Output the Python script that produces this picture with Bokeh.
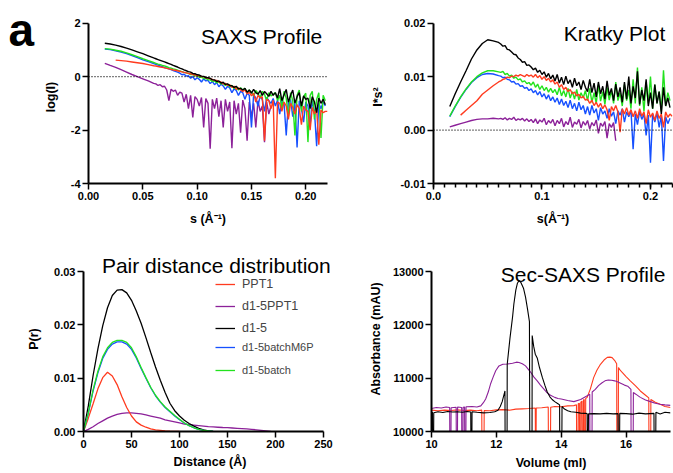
from bokeh.plotting import figure
from bokeh.layouts import column, row
from bokeh.models import (Range1d, FixedTicker, NumeralTickFormatter, Span, Label,
                          Legend, LegendItem)
from bokeh.embed import file_html
from bokeh.resources import INLINE

FONT = "Liberation Sans"
RED = "#FF3B1F"
GREEN = "#22E21E"
BLUE = "#1650FF"
PURPLE = "#8C2199"
BLACK = "#000000"

# ---------------- s grid (Å^-1) shared by SAXS and Kratky ----------------
S = [0.015, 0.02, 0.025, 0.03, 0.035, 0.04, 0.045, 0.05, 0.055, 0.06] + \
    [round(0.062 + 0.002 * i, 3) for i in range(80)]

# ---------------- SAXS profile: log(I) ----------------
SAXS_BLACK = [1.25, 1.22, 1.18, 1.13, 1.07, 1.00, 0.93, 0.86, 0.78, 0.70,
              0.67, 0.64, 0.61, 0.58, 0.55, 0.52, 0.49, 0.46, 0.42, 0.39, 0.36, 0.32, 0.29, 0.25,
              0.22, 0.19, 0.17, 0.12, 0.11, 0.07, 0.06, 0.02, 0.01, -0.04, -0.04,
              -0.06, -0.12, -0.12, -0.18, -0.16, -0.24, -0.21, -0.29, -0.27, -0.33, -0.34, -0.40, -0.36, -0.46, -0.44,
              -0.50, -0.44, -0.58, -0.50, -0.62, -0.48, -0.60, -0.66, -0.52, -0.70, -0.56, -0.64, -0.74, -0.55, -0.70,
              -0.60, -0.80, -0.45, -0.90, -0.68, -0.48, -0.95, -0.70, -0.50, -1.00, -0.75, -0.60, -1.10, -0.72, -0.85,
              -0.80, -1.20, -0.75, -0.95, -1.35, -0.80, -1.00, -0.85, -1.05]
SAXS_GREEN = [1.05, 1.03, 0.99, 0.95, 0.89, 0.82, 0.75, 0.67, 0.60, 0.53,
              0.50, 0.47, 0.45, 0.42, 0.40, 0.37, 0.34, 0.32, 0.29, 0.27, 0.24, 0.21, 0.19, 0.16,
              0.14, 0.12, 0.08, 0.08, 0.03, 0.03, -0.02, -0.02, -0.07, -0.06, -0.12,
              -0.12, -0.18, -0.16, -0.23, -0.20, -0.28, -0.25, -0.33, -0.28, -0.38, -0.33, -0.45, -0.38, -0.50, -0.42,
              -0.50, -0.44, -0.62, -0.50, -0.58, -0.72, -0.52, -0.62, -0.80, -0.55, -0.66, -0.90, -0.60, -0.72, -0.65,
              -0.60, -0.90, -0.70, -1.20, -0.55, -0.80, -1.50, -0.60, -0.90, -2.20, -0.70, -0.50, -1.30, -0.75, -0.62,
              -2.45, -0.70, -0.55, -1.60, -0.85, -0.60, -2.30, -0.70, -0.90]
SAXS_BLUE = [1.03, 1.01, 0.97, 0.92, 0.86, 0.79, 0.71, 0.63, 0.56, 0.49,
             0.46, 0.43, 0.40, 0.37, 0.34, 0.32, 0.29, 0.26, 0.23, 0.20, 0.17, 0.13, 0.07, 0.09,
             0.02, 0.04, -0.06, 0.00, -0.12, -0.04, -0.10, -0.20, -0.08, -0.16, -0.14,
             -0.26, -0.18, -0.30, -0.22, -0.38, -0.28, -0.35, -0.48, -0.36, -0.42, -0.60, -0.46, -0.52, -0.70, -0.55,
             -0.60, -0.85, -0.62, -0.70, -1.90, -0.68, -0.80, -1.10, -0.72, -0.86, -1.30, -0.78, -0.90, -1.00, -0.82,
             -1.10, -0.88, -1.40, -0.90, -1.00, -2.20, -0.95, -0.85, -1.50, -1.00, -2.65, -0.90, -1.20, -1.70, -0.95,
             -1.10, -1.80, -0.90, -1.30, -2.60, -1.00, -1.20, -0.95, -1.10]
SAXS_RED = [0.62, 0.60, 0.58, 0.55, 0.52, 0.49, 0.45, 0.41,
            0.40, 0.38, 0.36, 0.35, 0.33, 0.31, 0.29, 0.27, 0.25, 0.24, 0.22, 0.20, 0.18, 0.16,
            0.14, 0.12, 0.11, 0.08, 0.07, 0.04, 0.04, 0.00, 0.00, -0.04, -0.05,
            -0.08, -0.10, -0.14, -0.14, -0.20, -0.20, -0.27, -0.25, -0.33, -0.30, -0.40, -0.36, -0.48, -0.42, -0.50,
            -0.55, -0.50, -0.65, -0.58, -0.72, -0.62, -0.95, -0.70, -0.80, -0.75, -2.40, -0.85, -0.90, -1.20, -0.88,
            -3.80, -0.95, -1.00, -1.30, -0.95, -1.10, -1.60, -1.00, -1.15, -1.40, -1.05, -1.20, -1.80, -1.10, -1.25,
            -1.30, -2.00, -1.15, -1.40, -1.20, -2.55, -1.25, -1.35, -1.30, -1.30]
SAXS_PURPLE = [0.50, 0.42, 0.35, 0.26, 0.17, 0.08, 0.00, -0.08, -0.16, -0.25,
               -0.27, -0.33, -0.30, -0.38, -0.36, -0.50, -0.90, -0.47, -0.55, -0.50, -0.70, -0.58, -0.62, -0.95,
               -0.66, -1.20, -0.70, -1.53, -0.75, -0.85, -1.10, -0.78, -1.90, -0.82, -1.00,
               -2.70, -0.85, -1.20, -0.80, -1.50, -0.90, -1.90, -0.85, -1.30, -0.95, -2.68, -0.90, -1.40, -1.00, -2.10,
               -0.88, -1.20, -2.40, -0.95, -1.50, -1.00, -1.90, -0.90, -1.30, -1.10, -2.45, -0.95, -1.40, -1.10]

# ---------------- Kratky: I*s^2 ----------------
KR_BLACK = [0.0044, 0.0068, 0.0090, 0.0111, 0.0133, 0.0150, 0.0162, 0.0169, 0.0167, 0.0164,
            0.0161, 0.0157, 0.0158, 0.0151, 0.0150, 0.0146, 0.0142, 0.0141, 0.0135, 0.0132, 0.0127, 0.0128, 0.0121, 0.0122,
            0.0118, 0.0113, 0.0116, 0.0108, 0.0112, 0.0104, 0.0109, 0.0099, 0.0106, 0.0096, 0.0103,
            0.0092, 0.0104, 0.0088, 0.0099, 0.0085, 0.0101, 0.0087, 0.0094, 0.0080, 0.0097, 0.0083, 0.0090, 0.0076, 0.0093, 0.0080,
            0.0072, 0.0095, 0.0070, 0.0088, 0.0062, 0.0090, 0.0068, 0.0082, 0.0058, 0.0092, 0.0065, 0.0078, 0.0055, 0.0086, 0.0062,
            0.0080, 0.0052, 0.0090, 0.0058, 0.0100, 0.0050, 0.0082, 0.0060, 0.0110, 0.0048, 0.0075, 0.0055, 0.0095, 0.0045, 0.0070,
            0.0040, 0.0085, 0.0050, 0.0072, 0.0030, 0.0080, 0.0045, 0.0060, 0.0042]
KR_GREEN = [0.0026, 0.0045, 0.0062, 0.0077, 0.0090, 0.0100, 0.0107, 0.0111, 0.0111, 0.0109,
            0.0108, 0.0110, 0.0104, 0.0106, 0.0101, 0.0103, 0.0097, 0.0099, 0.0094, 0.0096, 0.0090, 0.0092, 0.0087, 0.0089,
            0.0084, 0.0090, 0.0080, 0.0086, 0.0076, 0.0083, 0.0074, 0.0080, 0.0071, 0.0078, 0.0070,
            0.0076, 0.0066, 0.0080, 0.0064, 0.0074, 0.0062, 0.0078, 0.0060, 0.0072, 0.0058, 0.0076, 0.0056, 0.0070, 0.0060, 0.0074,
            0.0055, 0.0078, 0.0052, 0.0070, 0.0050, 0.0085, 0.0054, 0.0072, 0.0048, 0.0080, 0.0056, 0.0074, 0.0050, 0.0090, 0.0055,
            0.0070, 0.0045, 0.0085, 0.0055, 0.0075, 0.0040, 0.0095, 0.0050, 0.0117, 0.0045, 0.0080, 0.0035, 0.0090, 0.0050, 0.0100,
            0.0040, 0.0085, 0.0050, 0.0072, 0.0035, 0.0112, 0.0045, 0.0070, 0.0055]
KR_BLUE = [0.0025, 0.0044, 0.0061, 0.0076, 0.0089, 0.0098, 0.0104, 0.0106, 0.0105, 0.0102,
           0.0101, 0.0098, 0.0099, 0.0095, 0.0094, 0.0090, 0.0091, 0.0086, 0.0087, 0.0082, 0.0083, 0.0078, 0.0080, 0.0074,
           0.0077, 0.0070, 0.0074, 0.0066, 0.0072, 0.0062, 0.0068, 0.0058, 0.0066, 0.0055, 0.0062,
           0.0052, 0.0060, 0.0048, 0.0058, 0.0046, 0.0054, 0.0042, 0.0056, 0.0040, 0.0050, 0.0036, 0.0052, 0.0038, 0.0046, 0.0030,
           0.0044, 0.0028, 0.0046, 0.0032, 0.0040, 0.0018, 0.0042, 0.0030, 0.0036, 0.0022, 0.0040, 0.0026, 0.0034, 0.0012, 0.0036,
           0.0028, 0.0040, 0.0015, 0.0034, 0.0025, 0.0038, -0.0036, 0.0030, 0.0010, 0.0035, 0.0020, 0.0030, -0.0010, 0.0028, -0.0061,
           0.0030, 0.0015, 0.0032, 0.0005, 0.0028, -0.0058, 0.0025, 0.0012, 0.0022]
KR_RED = [0.0028, 0.0037, 0.0046, 0.0055, 0.0067, 0.0075, 0.0083, 0.0090,
          0.0092, 0.0095, 0.0096, 0.0099, 0.0098, 0.0101, 0.0100, 0.0103, 0.0101, 0.0104, 0.0102, 0.0100, 0.0104, 0.0101,
          0.0103, 0.0099, 0.0104, 0.0098, 0.0102, 0.0095, 0.0100, 0.0093, 0.0097, 0.0090, 0.0094,
          0.0086, 0.0090, 0.0080, 0.0085, 0.0076, 0.0080, 0.0072, 0.0076, 0.0068, 0.0071, 0.0064, 0.0067, 0.0060, 0.0063, 0.0056,
          0.0058, 0.0050, 0.0056, 0.0046, 0.0052, 0.0043, 0.0050, 0.0040, 0.0047, 0.0038, 0.0018, 0.0044, 0.0036, 0.0046, 0.0034,
          -0.0004, 0.0040, 0.0030, 0.0042, 0.0028, 0.0038, 0.0025, 0.0036, 0.0022, 0.0040, 0.0026, 0.0034, 0.0012, 0.0038, 0.0024,
          0.0032, 0.0018, 0.0036, 0.0022, 0.0030, 0.0005, 0.0034, 0.0024, 0.0030, 0.0026]
KR_PURPLE = [0.0006, 0.0009, 0.0012, 0.0015, 0.0018, 0.0020, 0.0021, 0.0021, 0.0022, 0.0021,
             0.0022, 0.0020, 0.0023, 0.0019, 0.0022, 0.0020, 0.0024, 0.0018, 0.0021, 0.0019, 0.0022, 0.0017, 0.0021, 0.0016,
             0.0020, 0.0014, 0.0021, 0.0012, 0.0019, 0.0015, 0.0022, 0.0010, 0.0018, 0.0013, 0.0020,
             0.0008, 0.0018, 0.0012, 0.0022, 0.0006, 0.0016, 0.0010, 0.0024, 0.0005, 0.0015, 0.0011, 0.0020, 0.0004, 0.0016, 0.0009,
             0.0018, 0.0002, 0.0014, 0.0008, 0.0019, -0.0006, 0.0013, 0.0007, 0.0016, -0.0015, 0.0012, 0.0005, 0.0014, -0.0020]

# ---------------- Pair distance distribution ----------------
R = [0, 5, 10, 15, 20, 25, 30, 35, 40, 45, 50, 55, 60, 65, 70, 75, 80, 85, 90, 95,
     100, 105, 110, 115, 120, 125, 130, 135, 140, 145, 150, 155, 160, 165, 170, 175, 180, 185, 190, 195]
PR_RED = [0, 0.0025, 0.0052, 0.0080, 0.0101, 0.0111, 0.0104, 0.0088, 0.0065, 0.0045, 0.0029,
          0.0018, 0.0012, 0.0008, 0.0005, 0.0003, 0.0002, 0.0001, 0.00005, 0.00002, 0]
PR_PURPLE = [0, 0.0004, 0.0009, 0.0015, 0.0020, 0.0025, 0.0029, 0.0032, 0.0034, 0.0035, 0.0035,
             0.0034, 0.0033, 0.0031, 0.0029, 0.0027, 0.0025, 0.0022, 0.0020, 0.0018, 0.0016,
             0.0014, 0.0013, 0.0012, 0.0011, 0.0010, 0.0009, 0.00085, 0.0008, 0.00075, 0.00072,
             0.00066, 0.0006, 0.00054, 0.00048, 0.0004, 0.00032, 0.00022, 0.00012, 0]
PR_BLACK = [0, 0.0048, 0.0105, 0.0155, 0.0198, 0.0232, 0.0255, 0.0265, 0.0266, 0.0260, 0.0246,
            0.0226, 0.0203, 0.0176, 0.0148, 0.0121, 0.0096, 0.0073, 0.0053, 0.0039, 0.0029,
            0.0021, 0.0015, 0.0010, 0.0006, 0.0003, 0.0001, 0]
PR_GREEN = [0, 0.0035, 0.0078, 0.0113, 0.0140, 0.0157, 0.0167, 0.0171, 0.0171, 0.0167, 0.0157,
            0.0140, 0.0120, 0.0101, 0.0083, 0.0068, 0.0056, 0.0046, 0.0038, 0.0030, 0.0023,
            0.0016, 0.0011, 0.0007, 0.0004, 0.0002, 0.0001, 0]
PR_BLUE = [0, 0.0034, 0.0076, 0.0110, 0.0137, 0.0154, 0.0164, 0.0168, 0.0168, 0.0164, 0.0154,
           0.0138, 0.0118, 0.0100, 0.0082, 0.0067, 0.0055, 0.0045, 0.0037, 0.0029, 0.0022,
           0.0016, 0.0011, 0.0007, 0.0004, 0.0002, 0.0001, 0]
LEGEND_LABELS = ["PPT1", "d1-5PPT1", "d1-5", "d1-5batchM6P", "d1-5batch"]

# ---------------- Sec-SAXS: (volume ml, absorbance mAU) ----------------
SEC_BLACK = [(10.00, 10350), (10.03, 10360), (10.035, 9800), (10.065, 9800), (10.07, 10350),
             (10.2, 10370), (10.35, 10355), (10.5, 10375), (10.65, 10365), (10.8, 10370), (10.95, 10360),
             (11.1, 10375), (11.21, 10365), (11.215, 9800), (11.245, 9800), (11.25, 10370),
             (11.4, 10360), (11.6, 10350), (11.8, 10355), (11.95, 10370), (12.05, 10400), (12.12, 10470),
             (12.18, 10560), (12.24, 10700), (12.265, 10760), (12.27, 9800), (12.33, 9800), (12.335, 11260),
             (12.42, 11750), (12.5, 12150), (12.54, 12390), (12.6, 12650), (12.65, 12780), (12.7, 12830),
             (12.76, 12790), (12.84, 12680), (12.9, 12520), (12.96, 12300), (13.02, 12060),
             (13.03, 9800), (13.1, 9800), (13.105, 11800),
             (13.15, 11600), (13.2, 11450), (13.26, 11380), (13.33, 11200), (13.42, 11010), (13.5, 10860),
             (13.57, 10740), (13.65, 10650), (13.72, 10600), (13.8, 10560), (13.9, 10520), (13.95, 10500),
             (13.955, 9800), (14.02, 9800), (14.025, 10470),
             (14.1, 10420), (14.2, 10390), (14.3, 10370), (14.45, 10360), (14.6, 10345), (14.75, 10340),
             (14.8, 10335), (14.805, 9800), (14.835, 9800), (14.84, 10330),
             (15.0, 10335), (15.2, 10330), (15.4, 10340), (15.6, 10330), (15.75, 10335),
             (15.755, 9800), (15.8, 9800), (15.805, 10340),
             (16.0, 10335), (16.2, 10325), (16.4, 10345), (16.6, 10330), (16.86, 10340),
             (16.865, 9800), (16.915, 9800), (16.92, 10360),
             (17.05, 10330), (17.2, 10360), (17.37, 10350)]
SEC_PURPLE = [(10.0, 10430), (10.15, 10450), (10.3, 10440), (10.45, 10460), (10.56, 10450),
              (10.565, 9800), (10.6, 9800), (10.605, 10445),
              (10.76, 10455), (10.765, 9800), (10.8, 9800), (10.805, 10460),
              (10.93, 10450), (10.935, 9800), (10.97, 9800), (10.975, 10455),
              (11.02, 10460), (11.025, 9800), (11.06, 9800), (11.065, 10465),
              (11.25, 10470), (11.4, 10460), (11.52, 10480), (11.6, 10540), (11.67, 10610), (11.75, 10740),
              (11.82, 10890), (11.9, 11020), (11.98, 11140), (12.08, 11230), (12.2, 11260), (12.34, 11265),
              (12.5, 11280), (12.62, 11300), (12.7, 11295), (12.8, 11270), (12.9, 11230), (12.98, 11170),
              (13.06, 11110), (13.16, 11020), (13.26, 10950), (13.36, 10870), (13.46, 10800), (13.56, 10730),
              (13.67, 10680), (13.8, 10640), (13.9, 10620), (14.0, 10610), (14.2, 10580), (14.39, 10560),
              (14.6, 10600), (14.8, 10670), (14.88, 10700), (14.885, 9800), (14.95, 9800), (14.955, 10740),
              (15.05, 10790), (15.15, 10860), (15.25, 10910), (15.35, 10950), (15.45, 10965), (15.55, 10960),
              (15.65, 10950), (15.75, 10930), (15.85, 10900), (15.95, 10870), (16.05, 10850), (16.15, 10790),
              (16.155, 9800), (16.22, 9800), (16.225, 10730),
              (16.3, 10700), (16.44, 10640), (16.6, 10590), (16.75, 10560), (16.9, 10530), (17.05, 10510),
              (17.2, 10500), (17.37, 10490)]
SEC_RED = [(10.0, 10400), (10.2, 10390), (10.4, 10400), (10.6, 10395), (10.8, 10405), (11.0, 10395),
           (11.2, 10400), (11.4, 10390), (11.55, 10400), (11.555, 9800), (11.62, 9800), (11.625, 10395),
           (11.8, 10390), (12.0, 10405), (12.2, 10410), (12.4, 10400), (12.6, 10420), (12.8, 10425),
           (13.0, 10430), (13.2, 10440), (13.205, 9800), (13.225, 9800), (13.23, 10440),
           (13.4, 10445), (13.6, 10460), (13.605, 9800), (13.67, 9800), (13.675, 10455),
           (13.8, 10470), (14.0, 10465), (14.2, 10480), (14.39, 10485), (14.47, 10500),
           (14.475, 9800), (14.52, 9800), (14.525, 10520),
           (14.56, 10530), (14.565, 9800), (14.6, 9800), (14.605, 10550),
           (14.64, 10570), (14.645, 9800), (14.68, 9800), (14.685, 10590),
           (14.71, 10600), (14.715, 9800), (14.75, 9800), (14.755, 10620),
           (14.8, 10640), (14.9, 10800), (15.0, 11010), (15.1, 11150), (15.21, 11260), (15.32, 11340),
           (15.42, 11390), (15.5, 11395), (15.57, 11385), (15.65, 11330), (15.71, 11270),
           (15.715, 9800), (15.76, 9800), (15.765, 11200),
           (15.83, 11140), (15.88, 11110), (16.0, 11030), (16.13, 10950), (16.3, 10850), (16.44, 10760),
           (16.6, 10680), (16.7, 10630), (16.705, 9800), (16.76, 9800), (16.765, 10600),
           (16.9, 10550), (17.05, 10510), (17.2, 10470), (17.37, 10450)]


def xy(grid, vals, offset=0):
    xs = grid[offset:offset + len(vals)]
    n = min(len(xs), len(vals))
    return list(xs[:n]), list(vals[:n])


def make_fig(xr, yr, fw, fh, bl, br, bt, bb):
    p = figure(x_range=Range1d(*xr), y_range=Range1d(*yr), frame_width=fw, frame_height=fh,
               min_border_left=bl, min_border_right=br, min_border_top=bt, min_border_bottom=bb,
               toolbar_location=None, output_backend="svg")
    p.xgrid.visible = False
    p.ygrid.visible = False
    p.outline_line_color = None
    p.background_fill_color = "white"
    p.border_fill_color = "white"
    for ax in (p.xaxis[0], p.yaxis[0]):
        ax.axis_line_width = 2
        ax.axis_line_color = "black"
        ax.major_tick_line_width = 1.5
        ax.major_tick_line_color = "black"
        ax.major_tick_out = 6
        ax.major_tick_in = 0
        ax.minor_tick_line_color = None
        ax.major_label_text_font = FONT
        ax.major_label_text_font_style = "bold"
        ax.major_label_text_font_size = "11px"
        ax.major_label_text_color = "black"
        ax.major_label_standoff = 2
        ax.axis_label_text_font = FONT
        ax.axis_label_text_font_style = "bold"
        ax.axis_label_text_font_size = "12.5px"
        ax.axis_label_text_color = "black"
    return p


def title(p, x, y, text, align="right"):
    p.add_layout(Label(x=x, y=y, text=text, text_align=align, text_baseline="alphabetic",
                       text_font=FONT, text_font_size="21px", text_color="black"))


# ---------------- panel letter (its own narrow canvas, pixel-like units) ----------------
pLetter = figure(x_range=Range1d(0, 40), y_range=Range1d(0, 240), frame_width=40, frame_height=240,
                 min_border=0, toolbar_location=None, output_backend="svg",
                 x_axis_type=None, y_axis_type=None)
pLetter.xgrid.visible = False
pLetter.ygrid.visible = False
pLetter.outline_line_color = None
pLetter.add_layout(Label(x=8, y=221, text="a", text_align="left", text_baseline="alphabetic",
                         text_font=FONT, text_font_style="bold", text_font_size="46px",
                         text_color="black"))

# ---------------- Panel A: SAXS profile ----------------
pA = make_fig((0, 0.22), (-4, 2.476), 239, 173, 46, 15, 10, 57)
pA.xaxis[0].ticker = FixedTicker(ticks=[0, 0.05, 0.1, 0.15, 0.2])
pA.xaxis[0].formatter = NumeralTickFormatter(format="0.00")
pA.yaxis[0].ticker = FixedTicker(ticks=[-4, -2, 0, 2])
pA.yaxis[0].formatter = NumeralTickFormatter(format="0")
pA.yaxis[0].bounds = (-4, 2)
pA.xaxis[0].axis_label = "s (Å⁻¹)"
pA.yaxis[0].axis_label = "log(I)"
pA.xaxis[0].axis_label_standoff = 9
pA.yaxis[0].axis_label_standoff = 10
pA.add_layout(Span(location=0, dimension="width", line_color="black", line_dash="1 2", line_width=1.3))
for vals, col, off in [(SAXS_PURPLE, PURPLE, 0), (SAXS_BLUE, BLUE, 0), (SAXS_GREEN, GREEN, 0),
                       (SAXS_RED, RED, 2), (SAXS_BLACK, BLACK, 0)]:
    xs, ys = xy(S, vals, off)
    pA.line(xs, ys, line_color=col, line_width=1.4)
title(pA, 0.2152, 1.5, "SAXS Profile")

# ---------------- Panel B: Kratky ----------------
pB = make_fig((0, 0.2203), (-0.01, 0.02238), 239, 173, 91, 3, 10, 57)
pB.xaxis[0].ticker = FixedTicker(ticks=[0, 0.1, 0.2], minor_ticks=[i / 100 for i in range(23)])
pB.xaxis[0].formatter = NumeralTickFormatter(format="0.0")
pB.xaxis[0].minor_tick_line_color = "black"
pB.xaxis[0].minor_tick_line_width = 1.5
pB.xaxis[0].minor_tick_out = 4
pB.xaxis[0].minor_tick_in = 0
pB.yaxis[0].ticker = FixedTicker(ticks=[-0.01, 0, 0.01, 0.02])
pB.yaxis[0].formatter = NumeralTickFormatter(format="0.00")
pB.yaxis[0].bounds = (-0.01, 0.02)
pB.xaxis[0].axis_label = "s(Å⁻¹)"
pB.yaxis[0].axis_label = "I*s²"
pB.xaxis[0].axis_label_standoff = 9
pB.yaxis[0].axis_label_standoff = 12
pB.add_layout(Span(location=0, dimension="width", line_color="black", line_dash="1 2", line_width=1.3))
for vals, col, off in [(KR_PURPLE, PURPLE, 0), (KR_BLUE, BLUE, 0), (KR_GREEN, GREEN, 0),
                       (KR_RED, RED, 2), (KR_BLACK, BLACK, 0)]:
    xs, ys = xy(S, vals, off)
    pB.line(xs, ys, line_color=col, line_width=1.4)
title(pB, 0.2136, 0.018, "Kratky Plot")

# ---------------- Panel C: P(r) ----------------
pC = make_fig((0, 263.5), (0, 0.03469), 253, 185, 83, 4, 6, 40)
pC.xaxis[0].ticker = FixedTicker(ticks=[0, 50, 100, 150, 200, 250])
pC.xaxis[0].formatter = NumeralTickFormatter(format="0")
pC.xaxis[0].bounds = (0, 250)
pC.yaxis[0].ticker = FixedTicker(ticks=[0, 0.01, 0.02, 0.03])
pC.yaxis[0].formatter = NumeralTickFormatter(format="0.00")
pC.yaxis[0].bounds = (0, 0.03)
pC.xaxis[0].axis_label = "Distance (Å)"
pC.yaxis[0].axis_label = "P(r)"
pC.xaxis[0].axis_label_standoff = 4
pC.yaxis[0].axis_label_standoff = 10
rends = {}
for key, vals, col in [("purple", PR_PURPLE, PURPLE), ("red", PR_RED, RED), ("black", PR_BLACK, BLACK),
                       ("blue", PR_BLUE, BLUE), ("green", PR_GREEN, GREEN)]:
    xs, ys = xy(R, vals)
    rends[key] = pC.line(xs, ys, line_color=col, line_width=1.3)
leg1 = Legend(items=[LegendItem(label=LEGEND_LABELS[0], renderers=[rends["red"]]),
                     LegendItem(label=LEGEND_LABELS[1], renderers=[rends["purple"]]),
                     LegendItem(label=LEGEND_LABELS[2], renderers=[rends["black"]])],
              location=(132, 93), padding=0, margin=0, spacing=2, glyph_width=20, glyph_height=20,
              label_height=20, label_standoff=7, label_text_font=FONT, label_text_font_size="12.5px",
              border_line_color=None, background_fill_alpha=0)
leg2 = Legend(items=[LegendItem(label=LEGEND_LABELS[3], renderers=[rends["blue"]]),
                     LegendItem(label=LEGEND_LABELS[4], renderers=[rends["green"]])],
              location=(132, 51), padding=0, margin=0, spacing=3, glyph_width=20, glyph_height=20,
              label_height=20, label_standoff=7, label_text_font=FONT, label_text_font_size="11px",
              border_line_color=None, background_fill_alpha=0)
pC.add_layout(leg1)
pC.add_layout(leg2)
title(pC, 19.2, 0.0311, "Pair distance distribution", align="left")

# ---------------- Panel D: Sec-SAXS ----------------
pD = make_fig((10, 17.37), (10000, 13469), 239, 185, 91, 3, 6, 40)
pD.xaxis[0].ticker = FixedTicker(ticks=[10, 12, 14, 16])
pD.xaxis[0].formatter = NumeralTickFormatter(format="0")
pD.yaxis[0].ticker = FixedTicker(ticks=[10000, 11000, 12000, 13000])
pD.yaxis[0].formatter = NumeralTickFormatter(format="0")
pD.yaxis[0].bounds = (10000, 13000)
pD.xaxis[0].axis_label = "Volume (ml)"
pD.yaxis[0].axis_label = "Absorbance (mAU)"
pD.xaxis[0].axis_label_standoff = 5
pD.yaxis[0].axis_label_standoff = 7
for series, col in [(SEC_RED, RED), (SEC_PURPLE, PURPLE), (SEC_BLACK, BLACK)]:
    vs = [v for v, a in series]
    ab = [a for v, a in series]
    pD.line(vs, ab, line_color=col, line_width=1.1)
title(pD, 17.21, 12951, "Sec-SAXS Profile")

layout = column(row(pLetter, pA, pB), row(pC, pD))
open("out.html", "w").write(file_html(layout, INLINE))
